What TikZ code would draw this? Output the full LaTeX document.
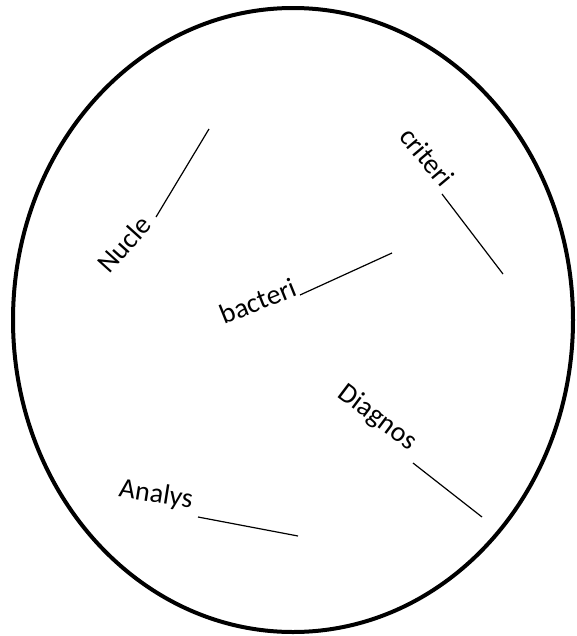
\documentclass[tikz,border=0pt]{standalone}
\usepackage{fontspec}
\setmainfont{Carlito}
\usepackage{tikz}
\tikzset{
term label/.style={inner sep=0, font=\fontsize{21}{25}\selectfont},
term line/.style={line width=0.9pt},
outer ring/.style={line width=3pt},
}

\begin{document}
\begin{tikzpicture}[x=0.75pt,y=-0.75pt]
        \useasboundingbox (0,0) rectangle (576,636);
        \draw[outer ring] (293,320) ellipse [x radius=280, y radius=312];
        \foreach \n/\t/\x/\y/\r in {nuc/Nucle/124/244/48,cri/criteri/427/157/-50,bac/bacteri/258/301/22,dia/Diagnos/377/418/-37,ana/Analys/156/495/-9}  {
            \node[term label, rotate=\r] (\n) at (\x,\y) {\t};
        }
        \coordinate (nuc0) at (156,217);
        \coordinate (nuc1) at (209,129);
        \coordinate (cri0) at (442,194);
        \coordinate (cri1) at (503,274);
        \coordinate (bac0) at (300,295);
        \coordinate (bac1) at (392,253);
        \coordinate (dia0) at (413,463);
        \coordinate (dia1) at (482,517);
        \coordinate (ana0) at (198,517);
        \coordinate (ana1) at (298,536);
        \draw[term line] (nuc0) -- (nuc1) ;
        \draw[term line] (cri0) -- (cri1) ;
        \draw[term line] (bac0) -- (bac1) ;
        \draw[term line] (dia0) -- (dia1) ;
        \draw[term line] (ana0) -- (ana1) ;
    \end{tikzpicture}
\end{document}
